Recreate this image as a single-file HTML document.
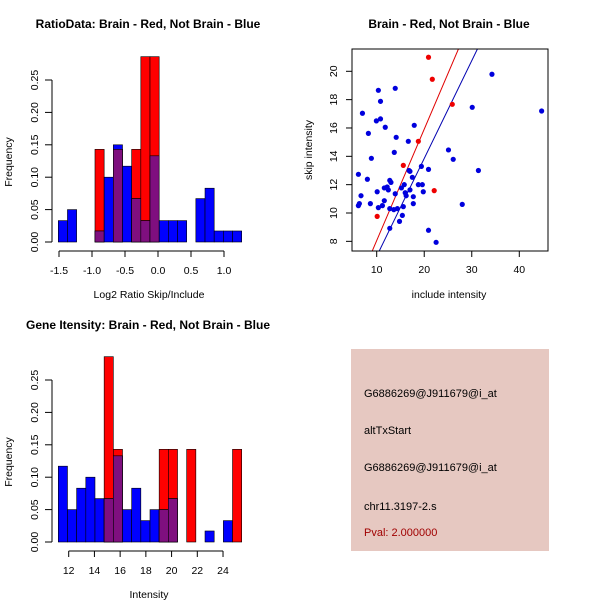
<!DOCTYPE html>
<html><head><meta charset="utf-8"><style>body{margin:0;background:#fff}svg{display:block;font-family:"Liberation Sans",sans-serif}</style></head>
<body>
<svg id="s" width="600" height="600" xmlns="http://www.w3.org/2000/svg"></svg>
<script>
const ratioBlue=[0.033,0.05,0,0,0.017,0.10,0.15,0.117,0.067,0.033,0.133,0.033,0.033,0.033,0,0.067,0.083,0.017,0.017,0.017];
const ratioRed=[0,0,0,0,0.143,0,0.143,0,0.143,0.286,0.286,0,0,0,0,0,0,0,0,0];
const ratioXTicks=[-1.5,-1.0,-0.5,0.0,0.5,1.0];
const intBlue=[0.117,0.05,0.083,0.10,0.067,0.067,0.133,0.05,0.083,0.033,0.05,0.05,0.067,0,0,0,0.017,0,0.033,0];
const intRed=[0,0,0,0,0,0.286,0.143,0,0,0,0,0.143,0.143,0,0.143,0,0,0,0,0.143];
const intXTicks=[12,14,16,18,20,22,24];
const freqTicks=[0,0.05,0.10,0.15,0.20,0.25];
const blueX=[34.25,44.7,30.1,10.35,13.9,10.8,7.0,9.93,10.8,11.8,17.9,8.25,14.1,16.65,13.7,25.1,26.1,8.88,6.15,8.04,19.4,20.9,31.4,16.8,17.0,12.75,13.0,17.5,11.6,12.2,12.45,15.8,15.2,18.76,19.6,10.1,19.8,13.9,16.0,16.2,17.0,17.7,6.7,6.35,6.15,8.67,11.6,11.2,10.35,17.7,28.0,12.75,13.6,14.35,15.6,15.4,14.8,12.75,20.9,22.5];
const blueY=[19.79,17.2,17.46,18.66,18.8,17.88,17.04,16.5,16.64,16.05,16.19,15.62,15.34,15.06,14.28,14.45,13.79,13.86,12.73,12.38,13.29,13.08,13.0,13.0,12.94,12.3,12.16,12.52,11.77,11.84,11.63,12.0,11.77,12.0,12.0,11.5,11.5,11.36,11.43,11.22,11.63,11.15,11.22,10.66,10.52,10.66,10.87,10.52,10.38,10.66,10.61,10.31,10.24,10.31,10.45,9.83,9.41,8.92,8.78,7.93];
const redX=[20.9,21.7,25.9,18.76,15.6,22.1,10.1];
const redY=[20.99,19.44,17.67,15.06,13.36,11.58,9.76];
const redFit=[0.196,0.786];
const blueFit=[0.05,0.69];
const scXTicks=[10,20,30,40];
const scYTicks=[8,10,12,14,16,18,20];

const S=document.getElementById('s');const NS='http://www.w3.org/2000/svg';
function mk(t,a,txt){const e=document.createElementNS(NS,t);for(const k in a)e.setAttribute(k,a[k]);if(txt!==undefined)e.textContent=txt;S.appendChild(e);return e;}
function hist(blue,red,x0,bw,xs,xTicks,baseY,title,xlab,titleY,pfx){
  const ys=v=>baseY-v*648;
  const L=x0,W=9.17;
  blue.forEach((b,i)=>{const r=red[i];const x=L+i*W;
    if(r>0){const e=mk('rect',{x:x,y:ys(r),width:W,height:r*648,fill:'#ff0000',stroke:'#000','stroke-width':0.6});
      }
    if(b>0){const e=mk('rect',{x:x,y:ys(b),width:W,height:b*648,fill:'#0000ff',stroke:'#000','stroke-width':0.6});
      }
    const m=Math.min(r,b);if(m>0){const e=mk('rect',{x:x,y:ys(m),width:W,height:m*648,fill:'#7f0f7f',stroke:'#000','stroke-width':0.6});
      }
  });
  mk('line',{x1:52,x2:52,y1:ys(0),y2:ys(0.25),stroke:'#000'});
  freqTicks.forEach(t=>{mk('line',{x1:45,x2:52,y1:ys(t),y2:ys(t),stroke:'#000'});
    const e=mk('text',{x:0,y:0,transform:`translate(38,${ys(t)}) rotate(-90)`,'text-anchor':'middle','font-size':10.5},t.toFixed(2));
    });
  const ax=baseY+9;
  mk('line',{x1:xs(xTicks[0]),x2:xs(xTicks[xTicks.length-1]),y1:ax,y2:ax,stroke:'#000'});
  xTicks.forEach(t=>{mk('line',{x1:xs(t),x2:xs(t),y1:ax,y2:ax+6,stroke:'#000'});
    const e=mk('text',{x:xs(t),y:ax+23,'text-anchor':'middle','font-size':10.5},t%1===0&&pfx==='int'?t:t.toFixed(1));
    });
  let e=mk('text',{x:0,y:0,transform:`translate(12,${baseY-80}) rotate(-90)`,'text-anchor':'middle','font-size':10.5},'Frequency');
  
  e=mk('text',{x:149,y:baseY+56,'text-anchor':'middle','font-size':10.5},xlab);
  
  e=mk('text',{x:148,y:titleY,'text-anchor':'middle','font-size':12,'font-weight':'bold'},title);
  
}
hist(ratioBlue,ratioRed,58.3,0.139,v=>59+(v+1.5)*66,ratioXTicks,242,'RatioData: Brain - Red, Not Brain - Blue','Log2 Ratio Skip/Include',28,'ratio');
hist(intBlue,intRed,58.3,0.713,v=>68.7+(v-12)*12.86,intXTicks,542,'Gene Itensity: Brain - Red, Not Brain - Blue','Intensity',329,'int');

const sx=v=>376.7+(v-10)*4.753, sy=v=>71.3-(v-20)*14.17;
const bx0=352,bx1=548,by0=49,by1=251;
mk('defs',{}).innerHTML='<clipPath id="c"><rect x="352" y="49" width="196" height="202"/></clipPath>';
[[redFit,'#e00000','red-fit-line'],[blueFit,'#0000b0','blue-fit-line']].forEach(([f,c,n])=>{
  const xa=0,xb=50;const e=mk('line',{x1:sx(xa),y1:sy(f[0]+f[1]*xa),x2:sx(xb),y2:sy(f[0]+f[1]*xb),stroke:c,'clip-path':'url(#c)'});
  });
blueX.forEach((v,i)=>{const e=mk('circle',{cx:sx(v),cy:sy(blueY[i]),r:2.6,fill:'#0000dd'});
  });
redX.forEach((v,i)=>{const e=mk('circle',{cx:sx(v),cy:sy(redY[i]),r:2.6,fill:'#ee0000'});
  });
mk('rect',{x:bx0,y:by0,width:bx1-bx0,height:by1-by0,fill:'none',stroke:'#000'});
scXTicks.forEach(t=>{mk('line',{x1:sx(t),x2:sx(t),y1:by1,y2:by1+6,stroke:'#000'});
  const e=mk('text',{x:sx(t),y:273,'text-anchor':'middle','font-size':10.5},t);
  });
scYTicks.forEach(t=>{mk('line',{x1:bx0-6,x2:bx0,y1:sy(t),y2:sy(t),stroke:'#000'});
  const e=mk('text',{x:0,y:0,transform:`translate(337,${sy(t)}) rotate(-90)`,'text-anchor':'middle','font-size':10.5},t);
  });
let e=mk('text',{x:449,y:298,'text-anchor':'middle','font-size':10.5},'include intensity');

e=mk('text',{x:0,y:0,transform:'translate(312,150) rotate(-90)','text-anchor':'middle','font-size':10.5},'skip intensity');

e=mk('text',{x:449,y:28,'text-anchor':'middle','font-size':12,'font-weight':'bold'},'Brain - Red, Not Brain - Blue');


e=mk('rect',{x:351,y:349,width:198,height:202,fill:'#e6c8c1'});

[['G6886269@J911679@i_at',397,'#000','probe-id'],['altTxStart',434,'#000','event-type'],['G6886269@J911679@i_at',471,'#000','probe-id-2'],['chr11.3197-2.s',510,'#000','location'],['Pval: 2.000000',536,'#a00000','p-value']].forEach(([t,y,c,n])=>{
  const e=mk('text',{x:364,y:y,'font-size':11,fill:c},t);
  });
</script>
</body></html>
